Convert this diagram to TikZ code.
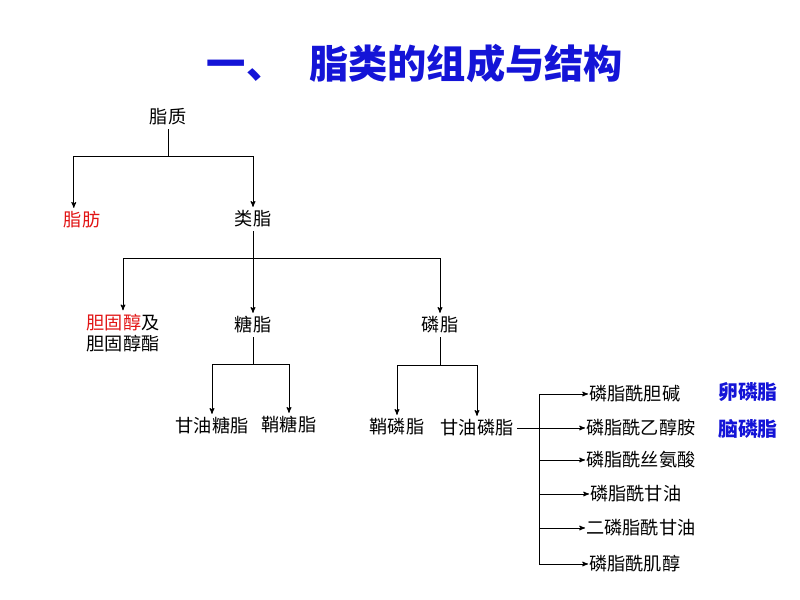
\documentclass[tikz,border=0pt]{standalone}
\usepackage{fontspec}
\setmainfont{Noto Sans CJK SC}
\usetikzlibrary{arrows,positioning}
\definecolor{zred}{RGB}{225,20,20}
\definecolor{zblue}{RGB}{20,20,215}
\tikzset{
>=stealth', % arrow heads
x=0.03cm, y=-0.03cm, % pixel units
link/.style={line width=0.8pt}, % every connector
item/.style={font=\fontsize{15.5}{18}\selectfont, inner sep=3pt}, % the names
sub/.style={item, anchor=west, inner sep=1pt}, % the list on the right
tag/.style={font=\fontsize{17}{20}\selectfont\bfseries, text=zblue}, % blue notes
title/.style={font=\fontsize{33.5}{38}\selectfont\bfseries, text=zblue},
}
\begin{document}
\begin{tikzpicture}
\useasboundingbox (0,0) rectangle (800,600);
\node[title] (title) at (415,64) {一、\hspace{0.6em}脂类的组成与结构};

\node[item] (zhizhi) at (168,117) {脂质};
\node[item, text=zred] (zhifang) at (82,220) {脂肪};
\node[item] (leizhi) at (253,219) {类脂};
\node[item, align=center] (danguchun) at (123,333) {\textcolor{zred}{胆固醇}及\\胆固醇酯};
\node[item] (tangzhi) at (253,325) {糖脂};
\node[item] (linzhi) at (440,325) {磷脂};
\node[item] (ganyoutang) at (212,426) {甘油糖脂};
\node[item] (qiaotang) at (289,425) {鞘糖脂};
\node[item] (qiaolin) at (397,427) {鞘磷脂};
\node[item] (ganyoulin) at (477,428) {甘油磷脂};

\node[sub] (pc) at (588,394) {磷脂酰胆碱};
\node[sub] (pe) at (585,428) {磷脂酰乙醇胺};
\node[sub] (ps) at (585,460) {磷脂酰丝氨酸};
\node[sub] (pg) at (589,494) {磷脂酰甘油};
\node[sub] (dpg) at (585,528) {二磷脂酰甘油};
\node[sub] (pi) at (588,564) {磷脂酰肌醇};

\node[tag] (luan) at (748,392) {卵磷脂};
\node[tag] (nao) at (748,429) {脑磷脂};

\coordinate (j1) at (168,156);
\coordinate (j2) at (253,258);
\coordinate (j3) at (253,364);
\coordinate (j4) at (440,365);
\coordinate (j5) at (539,394);
\coordinate (j6) at (539,564);

\draw[link] (zhizhi) -- (j1);
\draw[link,->] (j1) -| ([xshift=-7pt]zhifang.north);
\draw[link,->] (j1) -| (leizhi);
\draw[link] (leizhi) -- (j2);
\draw[link,->] (j2) -| (danguchun);
\draw[link,->] (j2) -- (tangzhi);
\draw[link,->] (j2) -| (linzhi);
\draw[link] (tangzhi) -- (j3);
\draw[link,->] (j3) -| (ganyoutang);
\draw[link,->] (j3) -| (qiaotang);
\draw[link] (linzhi) -- (j4);
\draw[link,->] (j4) -| (qiaolin);
\draw[link,->] (j4) -| (ganyoulin);
\draw[link,->] (ganyoulin) -- (pe);
\draw[link] (j5) -- (j6);
\foreach \n in {pc,ps,pg,dpg,pi}
  \draw[link,->] (\n.west -| j5) -- (\n.west);
\end{tikzpicture}
\end{document}
